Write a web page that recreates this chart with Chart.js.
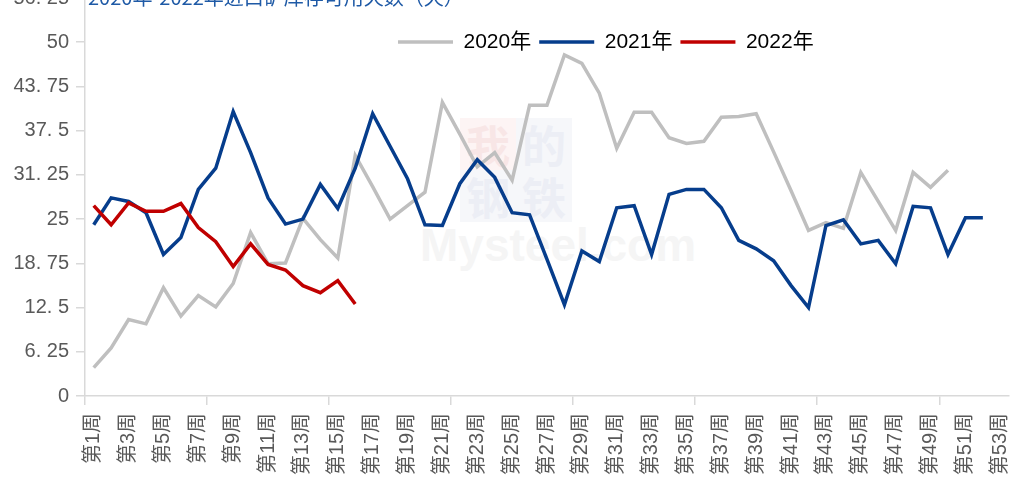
<!DOCTYPE html>
<html>
<head>
<meta charset="utf-8">
<script src="https://cdn.jsdelivr.net/npm/chart.js@4.4.0/dist/chart.umd.min.js"></script>
<style>
  html, body { margin: 0; padding: 0; background: #fff; overflow: hidden; }
  #wrap { position: relative; width: 1011px; height: 480px; overflow: hidden; }
  #myChart { position: absolute; left: 0; top: -50px; }
  #title { position: absolute; left: 88px; top: -18px; font: 20px 'Noto Sans CJK SC'; color: #1f5aa6; white-space: nowrap; }
  .wm { position: absolute; font: bold 44px 'Noto Sans CJK SC'; text-align: center; }
</style>
</head>
<body>
<div id="wrap">
  <div class="wm" style="left:460px;top:118px;width:56px;height:52px;background:#fdf4f4;color:#f8e6e6;line-height:52px">我</div>
  <div class="wm" style="left:516px;top:118px;width:56px;height:52px;background:#f6f7fa;color:#eceef5;line-height:52px">的</div>
  <div class="wm" style="left:460px;top:170px;width:56px;height:52px;background:#f6f7fa;color:#eceef5;line-height:52px">钢</div>
  <div class="wm" style="left:516px;top:170px;width:56px;height:52px;background:#f6f7fa;color:#eceef5;line-height:52px">铁</div>
  <div class="wm" style="left:420px;top:218px;font:bold 46px 'Liberation Sans';color:#f5f5f5">Mysteel.com</div>
  <canvas id="myChart" width="1011" height="530"></canvas>
  <div id="title">2020年-2022年进口矿库存可用天数（天）</div>
</div>
<script>
// week categories
const weeks = [];
for (let i = 1; i <= 53; i++) {
    weeks.push('第' + i + '周');
}

const seriesNames = ['2020年', '2021年', '2022年'];

const y2020 = [4.0, 6.8, 10.8, 10.2, 15.3, 11.3, 14.2, 12.6, 15.9, 23.1,
    18.7, 18.8, 25.1, 22.1, 19.5, 34.0, 29.6, 25.0, 26.9, 28.8,
    41.5, 37.0, 32.4, 34.4, 30.5, 41.1, 41.1, 48.2, 47.0, 42.8,
    35.0, 40.1, 40.1, 36.5, 35.7, 36.0, 39.4, 39.5, 39.9, 34.5,
    29.0, 23.4, 24.5, 23.7, 31.6, 27.5, 23.4, 31.6, 29.5, 31.9];

const y2021 = [24.2, 28.0, 27.5, 25.9, 20.0, 22.4, 29.2, 32.2, 40.2, 34.4,
    28.0, 24.3, 25.0, 29.9, 26.5, 32.2, 39.9, 35.3, 30.7, 24.2,
    24.1, 30.0, 33.4, 30.9, 25.9, 25.6, 19.3, 12.9, 20.5, 19.0,
    26.6, 26.9, 20.0, 28.5, 29.2, 29.2, 26.6, 22.0, 20.8, 19.1,
    15.6, 12.5, 24.1, 24.9, 21.5, 22.0, 18.7, 26.8, 26.6, 20.0,
    25.2, 25.2];

const y2022 = [26.9, 24.2, 27.3, 26.1, 26.1, 27.2, 23.8, 21.8, 18.3, 21.5,
    18.6, 17.8, 15.6, 14.6, 16.3, 13.0];

const yTickLabels = ['0', '6. 25', '12. 5', '18. 75', '25', '31. 25', '37. 5', '43. 75', '50', '56. 25'];

const axisGray = '#d9d9d9';
const textGray = '#595959';

// legend sits inside the plot, so move it after layout
const moveLegend = {
    id: 'moveLegend',
    afterLayout(chart) {
        const lg = chart.legend;
        const h = lg.height;
        lg.left = 390;
        lg.right = 390 + 1000;
        lg.top = 73.5;
        lg.bottom = 73.5 + h;
    }
};

Chart.defaults.font.family = "'Liberation Sans', 'Noto Sans CJK SC', sans-serif";

var ctx = document.getElementById('myChart').getContext('2d');
var myChart = new Chart(ctx, {
    type: 'line',
    data: {
        labels: weeks,
        datasets: [{
            label: seriesNames[0],
            data: y2020,
            borderColor: '#bfbfbf',
            backgroundColor: '#bfbfbf',
            borderWidth: 3.5,
            pointRadius: 0,
            tension: 0,
            fill: false,
            order: 3
        }, {
            label: seriesNames[1],
            data: y2021,
            borderColor: '#063d8c',
            backgroundColor: '#063d8c',
            borderWidth: 3.5,
            pointRadius: 0,
            tension: 0,
            fill: false,
            order: 2
        }, {
            label: seriesNames[2],
            data: y2022,
            borderColor: '#c00000',
            backgroundColor: '#c00000',
            borderWidth: 3.5,
            pointRadius: 0,
            tension: 0,
            fill: false,
            order: 1
        }]
    },
    options: {
        responsive: false,
        animation: false,
        devicePixelRatio: 1,
        layout: {
            padding: { top: 9, right: 2, left: 0, bottom: 0 }
        },
        plugins: {
            tooltip: { enabled: false },
            legend: {
                position: 'top',
                align: 'start',
                labels: {
                    usePointStyle: true,
                    pointStyle: 'line',
                    pointStyleWidth: 55,
                    padding: 8,
                    color: '#000',
                    font: { size: 21 },
                    sort: (a, b) => a.datasetIndex - b.datasetIndex
                }
            }
        },
        scales: {
            x: {
                offset: true,
                afterFit: (scale) => {
                    scale.height = 84;
                    scale.paddingLeft = 0;
                    scale.paddingRight = 0;
                },
                border: { color: axisGray, width: 1.5 },
                grid: {
                    offset: true,
                    drawOnChartArea: false,
                    drawTicks: true,
                    tickLength: 9,
                    lineWidth: 1.5,
                    color: (c) => (c.index % 7 === 0 ? axisGray : 'rgba(0,0,0,0)')
                },
                ticks: {
                    autoSkip: false,
                    maxRotation: 90,
                    minRotation: 90,
                    padding: 8,
                    color: textGray,
                    font: { size: 20 },
                    callback: (val, i) => (i % 2 === 0 ? weeks[i] : '')
                }
            },
            y: {
                min: 0,
                max: 56.25,
                afterFit: (scale) => { scale.width = 85; },
                border: { color: axisGray, width: 1.5 },
                grid: {
                    drawOnChartArea: false,
                    drawTicks: true,
                    tickLength: 9,
                    lineWidth: 1.5,
                    color: axisGray
                },
                ticks: {
                    stepSize: 6.25,
                    padding: 7,
                    color: textGray,
                    font: { size: 20 },
                    callback: (val, i) => yTickLabels[i]
                }
            }
        }
    },
    plugins: [moveLegend]
});
</script>
</body>
</html>
